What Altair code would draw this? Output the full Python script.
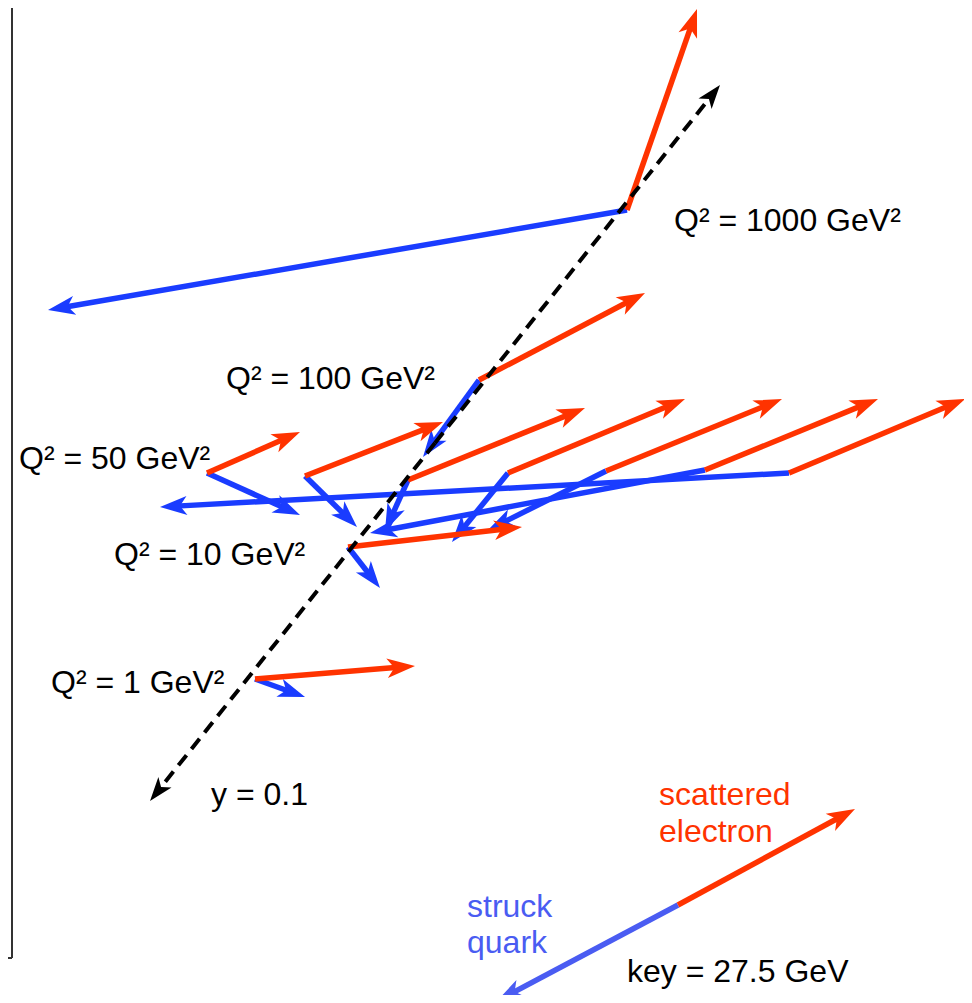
import math
import altair as alt
import pandas as pd

# ---------------- data (picture coordinates, y grows downward) ----------------
# interaction vertices, scattered-electron tips and struck-quark tips
vertex_x   = [627, 479, 207, 305, 408, 508, 606, 705, 789, 348, 255, 678]
vertex_y   = [210, 380, 473, 476, 480, 473, 471, 470, 473, 547, 679, 905]
electron_x = [697, 645, 300, 443, 585, 685, 782, 878, 965, 522, 415, 855]
electron_y = [9,   293, 432, 422, 408, 399, 399, 399, 399, 527, 666, 809]
quark_x    = [48,  423, 300, 357, 385, 452, 488, 370, 160, 380, 305, 497]
quark_y    = [310, 457, 515, 527, 531, 542, 530, 533, 507, 588, 697, 1001]
is_key     = [False] * 11 + [True]

# y = 0.1 dashed line (double-headed)
yline_x = [150, 720]
yline_y = [801, 85]

# remains of the neighbouring figure on the left edge
frame_x  = [12, 0, 4]
frame_y  = [0, 958, 946]
frame_x2 = [12, 12, 4]
frame_y2 = [958, 958, 958]

labels  = ["Q² = 1000 GeV²", "Q² = 100 GeV²", "Q² = 50 GeV²", "Q² = 10 GeV²",
           "Q² = 1 GeV²", "y = 0.1", "scattered", "electron", "struck", "quark",
           "key = 27.5 GeV"]
label_x = [674, 226, 19, 114, 51, 211, 659, 659, 467, 467, 627]
label_y = [231, 389, 469, 565, 693, 805, 805, 842, 917, 953, 982]
label_kind = ["black"] * 6 + ["red", "red", "keyblue", "keyblue", "black"]

RED = "#ff3300"
BLUE = "#1a3cff"
KEYBLUE = "#4a5cf2"
BLACK = "#000000"
text_colors = {"black": BLACK, "red": RED, "keyblue": KEYBLUE}

HEAD = "M0,0 L0.35,1 L0,0.74 L-0.35,1 Z"


def arrow(x0, y0, x1, y1, color, head_len, width, group):
    dx, dy = x1 - x0, y1 - y0
    L = math.hypot(dx, dy)
    back = 0.6 * head_len
    ex, ey = x1 - dx / L * back, y1 - dy / L * back
    ang = math.degrees(math.atan2(dx, -dy)) % 360
    seg = dict(x=x0, y=y0, x2=ex, y2=ey, color=color, w=width, group=group)
    head = dict(x=x1, y=y1, angle=ang, size=(2 * head_len) ** 2, color=color, group=group)
    return seg, head


segs, heads = [], []
for i in range(len(vertex_x)):
    qc = KEYBLUE if is_key[i] else BLUE
    s, h = arrow(vertex_x[i], vertex_y[i], quark_x[i], quark_y[i], qc, 27, 5.5, "quark")
    segs.append(s); heads.append(h)
for i in range(len(vertex_x)):
    s, h = arrow(vertex_x[i], vertex_y[i], electron_x[i], electron_y[i], RED, 28, 5.5, "electron")
    segs.append(s); heads.append(h)

mx, my = (yline_x[0] + yline_x[1]) / 2, (yline_y[0] + yline_y[1]) / 2
for k in range(2):
    s, h = arrow(mx, my, yline_x[k], yline_y[k], BLACK, 24, 4, "yline")
    segs.append(s); heads.append(h)

seg_df = pd.DataFrame(segs)
head_df = pd.DataFrame(heads)
frame_df = pd.DataFrame(dict(x=frame_x, y=frame_y, x2=frame_x2, y2=frame_y2))
text_df = pd.DataFrame(dict(x=label_x, y=label_y, label=labels,
                            color=[text_colors[k] for k in label_kind]))

X = alt.X("x:Q", scale=alt.Scale(domain=[8, 964], nice=False, zero=False), axis=None)
Y = alt.Y("y:Q", scale=alt.Scale(domain=[8, 995], reverse=True, nice=False, zero=False), axis=None)
C = alt.Color("color:N", scale=None)


def seg_layer(group, dash=None):
    kw = dict(strokeCap="butt")
    if dash:
        kw["strokeDash"] = dash
    return alt.Chart(seg_df[seg_df.group == group]).mark_rule(**kw).encode(
        x=X, y=Y, x2="x2:Q", y2="y2:Q", color=C,
        strokeWidth=alt.StrokeWidth("w:Q", scale=None))


def head_layer(group):
    return alt.Chart(head_df[head_df.group == group]).mark_point(
        shape=HEAD, filled=True, opacity=1, strokeWidth=0).encode(
        x=X, y=Y, color=C,
        angle=alt.Angle("angle:Q", scale=None),
        size=alt.Size("size:Q", scale=None))


frame = alt.Chart(frame_df).mark_rule(color="#333333", strokeWidth=2).encode(
    x=X, y=Y, x2="x2:Q", y2="y2:Q")

text = alt.Chart(text_df).mark_text(
    align="left", baseline="alphabetic", font="Liberation Sans", fontSize=32).encode(
    x=X, y=Y, text="label:N", color=C)

chart = alt.layer(
    frame,
    seg_layer("quark"), head_layer("quark"),
    seg_layer("electron"), head_layer("electron"),
    seg_layer("yline", dash=[13, 8]), head_layer("yline"),
    text,
).properties(
    width=956, height=987, padding=0, autosize="none", background="white"
).configure_view(stroke=None)

chart.save("out.html", embed_options={"renderer": "svg", "actions": False})
